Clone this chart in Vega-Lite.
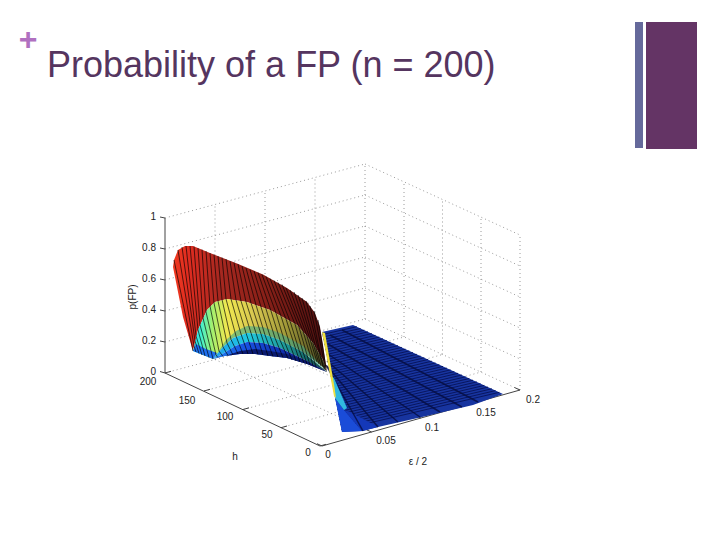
{"$schema":"https://vega.github.io/schema/vega-lite/v6.json","width":720,"height":540,"padding":0,"autosize":{"type":"fit","contains":"padding"},"background":"#ffffff","view":{"stroke":null},
"resolve":{"scale":{"fill":"independent"}},
"encoding":{"x":{"field":"x","type":"quantitative","scale":{"domain":[0,720],"nice":false,"zero":false},"axis":null},"y":{"field":"y","type":"quantitative","scale":{"domain":[540,0],"nice":false,"zero":false},"axis":null}},
"datasets":{
"bars":[{"name":"a","x":635,"x2":643,"y":22,"y2":148},{"name":"b","x":646,"x2":697,"y":22,"y2":149}],
"grid":[{"x":165,"y":373,"x2":365,"y2":319},{"x":165,"y":342,"x2":365,"y2":288},{"x":165,"y":311,"x2":365,"y2":257},{"x":165,"y":280,"x2":365,"y2":226},{"x":165,"y":249,"x2":365,"y2":195},{"x":165,"y":218,"x2":365,"y2":164},
{"x":365,"y":319,"x2":520,"y2":390},{"x":365,"y":288,"x2":520,"y2":359},{"x":365,"y":257,"x2":520,"y2":328},{"x":365,"y":226,"x2":520,"y2":297},{"x":365,"y":195,"x2":520,"y2":266},{"x":365,"y":164,"x2":520,"y2":235},
{"x":215,"y":359.5,"x2":215,"y2":204.5},{"x":265,"y":346,"x2":265,"y2":191},{"x":315,"y":332.5,"x2":315,"y2":177.5},{"x":365,"y":319,"x2":365,"y2":164},
{"x":404,"y":337,"x2":404,"y2":182},{"x":442.5,"y":354.5,"x2":442.5,"y2":199.5},{"x":481,"y":372,"x2":481,"y2":217},{"x":520,"y":390,"x2":520,"y2":235},
{"x":215,"y":359.5,"x2":371.5,"y2":432},{"x":265,"y":346,"x2":421,"y2":418},{"x":315,"y":332.5,"x2":470.5,"y2":404},
{"x":280.75,"y":427.75,"x2":481,"y2":372},{"x":243.5,"y":409.5,"x2":442.5,"y2":354.5},{"x":204,"y":391,"x2":404,"y2":337}],
"axes":[{"x":165,"y":218,"x2":165,"y2":373},{"x":165,"y":373,"x2":320,"y2":446},{"x":322,"y":446,"x2":520,"y2":390},
{"x":165,"y":218,"x2":160,"y2":217},{"x":165,"y":249,"x2":160,"y2":248},{"x":165,"y":280,"x2":160,"y2":279},{"x":165,"y":311,"x2":160,"y2":310},{"x":165,"y":342,"x2":160,"y2":341},{"x":165,"y":373,"x2":160,"y2":371.5},
{"x":165,"y":373,"x2":171,"y2":371.3},{"x":204,"y":391,"x2":210,"y2":389.3},{"x":243,"y":409.5,"x2":249,"y2":407.8},{"x":281,"y":427.7,"x2":287,"y2":426},{"x":320,"y":446,"x2":326,"y2":444.3},
{"x":322,"y":446,"x2":317,"y2":443.7},{"x":371.5,"y":432,"x2":366,"y2":429.5},{"x":421,"y":418,"x2":415.5,"y2":415.5},{"x":470.5,"y":404,"x2":465,"y2":401.5},{"x":520,"y":390,"x2":514.5,"y2":387.5}],
"plane":[{"i":1,"x":322,"y":332},{"i":2,"x":353,"y":325},{"i":3,"x":503,"y":394},{"i":4,"x":473,"y":405},{"i":5,"x":422,"y":417},{"i":6,"x":378,"y":427},{"i":7,"x":363,"y":431},{"i":8,"x":342,"y":432}],
"planeLines":[{"x":322.5,"y":334.5,"x2":356.8,"y2":326.7},{"x":323,"y":337,"x2":360.5,"y2":328.5},{"x":323.5,"y":339.5,"x2":364.3,"y2":330.2},{"x":324,"y":342,"x2":368,"y2":331.9},{"x":324.5,"y":344.5,"x2":371.8,"y2":333.6},{"x":325,"y":347,"x2":375.5,"y2":335.4},{"x":325.5,"y":349.5,"x2":379.3,"y2":337.1},{"x":326,"y":352,"x2":383,"y2":338.8},{"x":326.5,"y":354.5,"x2":386.8,"y2":340.5},{"x":327,"y":357,"x2":390.5,"y2":342.3},{"x":327.5,"y":359.5,"x2":394.3,"y2":344},{"x":328,"y":362,"x2":398,"y2":345.7},{"x":328.5,"y":364.5,"x2":401.8,"y2":347.4},{"x":329,"y":367,"x2":405.5,"y2":349.2},{"x":329.5,"y":369.5,"x2":409.3,"y2":350.9},{"x":330,"y":372,"x2":413,"y2":352.6},{"x":330.5,"y":374.5,"x2":416.8,"y2":354.3},{"x":331,"y":377,"x2":420.5,"y2":356.1},{"x":331.5,"y":379.5,"x2":424.3,"y2":357.8},{"x":332,"y":382,"x2":428,"y2":359.5},{"x":332.5,"y":384.5,"x2":431.8,"y2":361.2},{"x":333,"y":387,"x2":435.5,"y2":363},{"x":333.5,"y":389.5,"x2":439.3,"y2":364.7},{"x":334,"y":392,"x2":443,"y2":366.4},{"x":334.5,"y":394.5,"x2":446.8,"y2":368.1},{"x":335,"y":397,"x2":450.5,"y2":369.9},{"x":335.5,"y":399.5,"x2":454.3,"y2":371.6},{"x":336,"y":402,"x2":458,"y2":373.3},{"x":336.5,"y":404.5,"x2":461.8,"y2":375},{"x":337,"y":407,"x2":465.5,"y2":376.8},{"x":337.5,"y":409.5,"x2":469.3,"y2":378.5},{"x":338,"y":412,"x2":473,"y2":380.2},{"x":338.5,"y":414.5,"x2":476.8,"y2":381.9},{"x":339,"y":417,"x2":480.5,"y2":383.7},{"x":339.5,"y":419.5,"x2":484.3,"y2":385.4},{"x":340,"y":422,"x2":488,"y2":387.1},{"x":340.5,"y":424.5,"x2":491.8,"y2":388.8},{"x":341,"y":427,"x2":495.5,"y2":390.6},{"x":341.5,"y":429.5,"x2":499.3,"y2":392.3}],
"planeBands":[{"x":326,"y":365,"x2":363,"y2":431},{"x":327,"y":366,"x2":378,"y2":427},{"x":327,"y":361,"x2":398,"y2":422},{"x":328,"y":354,"x2":420,"y2":417},{"x":328,"y":344,"x2":440,"y2":412},{"x":330,"y":335,"x2":462,"y2":407},{"x":342,"y":330,"x2":478,"y2":402}],
"fold":[{"part":"bright","i":1,"x":335,"y":398},{"part":"bright","i":2,"x":344,"y":410},{"part":"bright","i":3,"x":362,"y":431},{"part":"bright","i":4,"x":342,"y":432},
{"part":"band2","i":1,"x":344,"y":410},{"part":"band2","i":2,"x":350,"y":412},{"part":"band2","i":3,"x":378,"y":427},{"part":"band2","i":4,"x":362,"y":431}],
"cyanFin":[{"i":1,"x":331,"y":376},{"i":2,"x":334,"y":378},{"i":3,"x":347,"y":408},{"i":4,"x":344,"y":410},{"i":5,"x":335,"y":398}],
"yellowFin":[{"i":1,"x":322,"y":332},{"i":2,"x":325,"y":333},{"i":3,"x":334,"y":384},{"i":4,"x":336,"y":398},{"i":5,"x":334,"y":396},{"i":6,"x":331,"y":380}],
"red":[{"i":1,"x":193,"y":351},{"i":2,"x":183,"y":317},{"i":3,"x":177,"y":287},{"i":4,"x":173,"y":267},{"i":5,"x":174,"y":260},{"i":6,"x":178,"y":250},{"i":7,"x":185,"y":246},{"i":8,"x":193,"y":246},{"i":9,"x":210,"y":253},{"i":10,"x":237,"y":263.5},{"i":11,"x":263,"y":274.5},{"i":12,"x":287,"y":288},{"i":13,"x":307,"y":302},{"i":14,"x":315,"y":313},{"i":15,"x":320,"y":327},{"i":16,"x":323,"y":345},{"i":17,"x":327,"y":372},{"i":18,"x":323,"y":360},{"i":19,"x":313,"y":343},{"i":20,"x":297,"y":325},{"i":21,"x":270,"y":310},{"i":22,"x":247,"y":302},{"i":23,"x":227,"y":299},{"i":24,"x":215,"y":302},{"i":25,"x":207,"y":310},{"i":26,"x":198,"y":330}],
"yellow":[{"i":1,"x":193,"y":351},{"i":2,"x":198,"y":330},{"i":3,"x":207,"y":310},{"i":4,"x":215,"y":302},{"i":5,"x":227,"y":299},{"i":6,"x":247,"y":302},{"i":7,"x":270,"y":310},{"i":8,"x":297,"y":325},{"i":9,"x":313,"y":343},{"i":10,"x":323,"y":360},{"i":11,"x":327,"y":372},{"i":12,"x":323,"y":367},{"i":13,"x":303,"y":352},{"i":14,"x":280,"y":340},{"i":15,"x":263,"y":334},{"i":16,"x":247,"y":333},{"i":17,"x":233,"y":338},{"i":18,"x":223,"y":347},{"i":19,"x":213,"y":359}],
"green":[{"i":1,"x":218,"y":352},{"i":2,"x":226,"y":340},{"i":3,"x":236,"y":331},{"i":4,"x":247,"y":326},{"i":5,"x":263,"y":327},{"i":6,"x":280,"y":333},{"i":7,"x":303,"y":346},{"i":8,"x":327,"y":372},{"i":9,"x":303,"y":352},{"i":10,"x":280,"y":340},{"i":11,"x":263,"y":334},{"i":12,"x":247,"y":333},{"i":13,"x":233,"y":338},{"i":14,"x":223,"y":347},{"i":15,"x":213,"y":359}],
"teal":[{"i":1,"x":213,"y":359},{"i":2,"x":223,"y":347},{"i":3,"x":233,"y":338},{"i":4,"x":247,"y":333},{"i":5,"x":263,"y":334},{"i":6,"x":280,"y":340},{"i":7,"x":303,"y":352},{"i":8,"x":327,"y":372},{"i":9,"x":303,"y":359},{"i":10,"x":280,"y":348},{"i":11,"x":263,"y":343},{"i":12,"x":247,"y":342},{"i":13,"x":235,"y":346},{"i":14,"x":224,"y":353}],
"blue":[{"i":1,"x":213,"y":359},{"i":2,"x":224,"y":353},{"i":3,"x":235,"y":346},{"i":4,"x":247,"y":342},{"i":5,"x":263,"y":343},{"i":6,"x":280,"y":348},{"i":7,"x":303,"y":359},{"i":8,"x":327,"y":372},{"i":9,"x":307,"y":364},{"i":10,"x":287,"y":358},{"i":11,"x":270,"y":356},{"i":12,"x":255,"y":354},{"i":13,"x":240,"y":354},{"i":14,"x":225,"y":356}],
"navy":[{"i":1,"x":225,"y":356},{"i":2,"x":240,"y":351},{"i":3,"x":255,"y":349},{"i":4,"x":270,"y":351},{"i":5,"x":287,"y":354},{"i":6,"x":307,"y":361},{"i":7,"x":327,"y":372},{"i":8,"x":307,"y":364},{"i":9,"x":287,"y":358},{"i":10,"x":270,"y":356},{"i":11,"x":255,"y":354},{"i":12,"x":240,"y":354}],
"base":[{"i":1,"x":193,"y":351},{"i":2,"x":196,"y":344},{"i":3,"x":206,"y":349},{"i":4,"x":217,"y":353},{"i":5,"x":213,"y":359}],
"stripes":[
{"x":174,"y":260,"x2":193,"y2":351},{"x":178,"y":250,"x2":194,"y2":346},{"x":182,"y":247,"x2":195,"y2":341},{"x":186,"y":246,"x2":196,"y2":336},{"x":190,"y":246,"x2":198,"y2":330},{"x":194,"y":246.5,"x2":200,"y2":325},{"x":198,"y":248,"x2":203,"y2":318},{"x":202,"y":249.5,"x2":206,"y2":312},{"x":206,"y":251,"x2":210,"y2":306},{"x":210,"y":253,"x2":214,"y2":303},{"x":214,"y":254.5,"x2":218,"y2":301},{"x":218,"y":256,"x2":222,"y2":299.5},{"x":222,"y":257.5,"x2":226,"y2":299},{"x":226,"y":259,"x2":231,"y2":299},{"x":230,"y":261,"x2":236,"y2":300},{"x":234,"y":262.5,"x2":241,"y2":301},{"x":238,"y":264,"x2":246,"y2":302},{"x":242,"y":266,"x2":251,"y2":303},{"x":246,"y":268,"x2":256,"y2":305},{"x":250,"y":269.5,"x2":261,"y2":307},{"x":254,"y":271,"x2":266,"y2":309},{"x":258,"y":272.5,"x2":271,"y2":311},{"x":262,"y":274.5,"x2":276,"y2":313},{"x":266,"y":276.5,"x2":281,"y2":316},{"x":270,"y":278.5,"x2":286,"y2":319},{"x":274,"y":280.5,"x2":290,"y2":321},{"x":278,"y":282.5,"x2":295,"y2":324},{"x":282,"y":284.5,"x2":299,"y2":327},{"x":286,"y":288,"x2":303,"y2":331},{"x":290,"y":290,"x2":307,"y2":336},{"x":294,"y":292,"x2":310,"y2":339},{"x":298,"y":295,"x2":313,"y2":343},{"x":302,"y":298,"x2":316,"y2":348},{"x":306,"y":301,"x2":319,"y2":352},{"x":310,"y":306,"x2":321,"y2":357},{"x":314,"y":311,"x2":324,"y2":362},{"x":318,"y":320,"x2":326,"y2":368},
{"x":194,"y":346,"x2":196,"y2":352},{"x":195,"y":341,"x2":199,"y2":353.5},{"x":196,"y":336,"x2":202,"y2":355},{"x":198,"y":330,"x2":205,"y2":356},{"x":200,"y":325,"x2":209,"y2":357.5},{"x":203,"y":318,"x2":213,"y2":359},{"x":206,"y":312,"x2":216,"y2":355},{"x":210,"y":306,"x2":219,"y2":351},{"x":214,"y":303,"x2":223,"y2":347},{"x":218,"y":301,"x2":227,"y2":343},{"x":222,"y":299.5,"x2":231,"y2":339.5},{"x":226,"y":299,"x2":236,"y2":336},{"x":231,"y":299,"x2":241,"y2":334},{"x":236,"y":300,"x2":246,"y2":333},{"x":241,"y":301,"x2":251,"y2":333},{"x":246,"y":302,"x2":256,"y2":333},{"x":251,"y":303,"x2":261,"y2":334},{"x":256,"y":305,"x2":265,"y2":335},{"x":261,"y":307,"x2":270,"y2":336},{"x":266,"y":309,"x2":275,"y2":338},{"x":271,"y":311,"x2":280,"y2":340},{"x":276,"y":313,"x2":285,"y2":343},{"x":281,"y":316,"x2":290,"y2":345},{"x":286,"y":319,"x2":295,"y2":347},{"x":290,"y":321,"x2":299,"y2":350},{"x":295,"y":324,"x2":303,"y2":352},{"x":299,"y":327,"x2":307,"y2":355},{"x":303,"y":331,"x2":311,"y2":358},{"x":307,"y":336,"x2":314,"y2":360},{"x":310,"y":339,"x2":317,"y2":362},{"x":313,"y":343,"x2":319,"y2":364},{"x":316,"y":348,"x2":321,"y2":366},{"x":319,"y":352,"x2":323,"y2":367},{"x":321,"y":357,"x2":324,"y2":369},{"x":324,"y":362,"x2":325,"y2":370},
{"x":216,"y":355,"x2":218,"y2":357.5},{"x":219,"y":351,"x2":223,"y2":356.5},{"x":223,"y":347,"x2":228,"y2":355.5},{"x":227,"y":343,"x2":233,"y2":355},{"x":231,"y":339.5,"x2":238,"y2":354},{"x":236,"y":336,"x2":243,"y2":354},{"x":241,"y":334,"x2":248,"y2":354},{"x":246,"y":333,"x2":253,"y2":354},{"x":251,"y":333,"x2":258,"y2":354.5},{"x":256,"y":333,"x2":263,"y2":355},{"x":261,"y":334,"x2":268,"y2":356},{"x":265,"y":335,"x2":273,"y2":356.5},{"x":270,"y":336,"x2":278,"y2":357},{"x":275,"y":338,"x2":283,"y2":357.5},{"x":280,"y":340,"x2":288,"y2":358.5},{"x":285,"y":343,"x2":292,"y2":360},{"x":290,"y":345,"x2":296,"y2":361},{"x":295,"y":347,"x2":300,"y2":362},{"x":299,"y":350,"x2":304,"y2":363},{"x":303,"y":352,"x2":307,"y2":364},{"x":307,"y":355,"x2":310,"y2":365},{"x":311,"y":358,"x2":313,"y2":366},{"x":314,"y":360,"x2":316,"y2":367}],
"labels":[{"t":"200","x":148,"y":382},{"t":"150","x":187,"y":401},{"t":"100","x":225,"y":417},{"t":"50","x":267,"y":435},{"t":"0","x":308,"y":453},{"t":"h","x":235,"y":457},{"t":"0","x":328,"y":455},{"t":"0.05","x":386,"y":441},{"t":"0.1","x":432,"y":428},{"t":"0.15","x":486,"y":413},{"t":"0.2","x":533,"y":400},{"t":"ε / 2","x":418,"y":462}],
"zlabels":[{"t":"1","x":156,"y":217},{"t":"0.8","x":156,"y":248},{"t":"0.6","x":156,"y":279},{"t":"0.4","x":156,"y":310},{"t":"0.2","x":156,"y":341},{"t":"0","x":156,"y":372}]
},
"layer":[
{"data":{"name":"bars"},"mark":{"type":"rect"},"encoding":{"x2":{"field":"x2"},"y2":{"field":"y2"},"fill":{"field":"name","type":"nominal","legend":null,"scale":{"domain":["a","b"],"range":["#65699b","#643465"]}}}},
{"data":{"name":"grid"},"mark":{"type":"rule","stroke":"#808080","strokeWidth":0.8,"strokeDash":[1,3]},"encoding":{"x2":{"field":"x2"},"y2":{"field":"y2"}}},
{"data":{"name":"axes"},"mark":{"type":"rule","stroke":"#444444","strokeWidth":1},"encoding":{"x2":{"field":"x2"},"y2":{"field":"y2"}}},
{"data":{"name":"plane"},"mark":{"type":"line","fill":"#17349f","strokeWidth":0},"encoding":{"order":{"field":"i"}}},
{"data":{"name":"planeLines"},"mark":{"type":"rule","stroke":"#081660","strokeWidth":1},"encoding":{"x2":{"field":"x2"},"y2":{"field":"y2"}}},
{"data":{"name":"fold"},"mark":{"type":"line","strokeWidth":0},"encoding":{"order":{"field":"i"},"detail":{"field":"part"},"fill":{"field":"part","type":"nominal","legend":null,"scale":{"domain":["bright","band2"],"range":["#1a4cd8","#1438b8"]}}}},
{"data":{"name":"planeBands"},"mark":{"type":"rule","stroke":"#050c40","strokeWidth":1.5,"opacity":0.8},"encoding":{"x2":{"field":"x2"},"y2":{"field":"y2"}}},
{"data":{"name":"cyanFin"},"mark":{"type":"line","strokeWidth":0,"fill":"#30b8e0"},"encoding":{"order":{"field":"i"}}},
{"data":{"name":"yellowFin"},"mark":{"type":"line","strokeWidth":0,"fill":"#f0e040"},"encoding":{"order":{"field":"i"}}},
{"data":{"name":"red"},"mark":{"type":"line","strokeWidth":0,"fill":{"gradient":"linear","x1":0,"y1":0,"x2":1,"y2":0,"stops":[{"offset":0,"color":"#f03a20"},{"offset":0.1,"color":"#e02c20"},{"offset":0.3,"color":"#a82820"},{"offset":0.6,"color":"#882018"},{"offset":1,"color":"#4a1010"}]}},"encoding":{"order":{"field":"i"}}},
{"data":{"name":"yellow"},"mark":{"type":"line","strokeWidth":0,"fill":{"gradient":"linear","x1":0,"y1":0,"x2":1,"y2":0,"stops":[{"offset":0,"color":"#28d8f0"},{"offset":0.06,"color":"#40f0d0"},{"offset":0.14,"color":"#a0f070"},{"offset":0.25,"color":"#f0e850"},{"offset":0.45,"color":"#d8c850"},{"offset":0.7,"color":"#a09838"},{"offset":1,"color":"#404020"}]}},"encoding":{"order":{"field":"i"}}},
{"data":{"name":"green"},"mark":{"type":"line","strokeWidth":0,"fill":"#40a888","fillOpacity":0.6},"encoding":{"order":{"field":"i"}}},
{"data":{"name":"teal"},"mark":{"type":"line","strokeWidth":0,"fill":{"gradient":"linear","x1":0,"y1":0,"x2":1,"y2":0,"stops":[{"offset":0,"color":"#20a0f0"},{"offset":0.3,"color":"#20c8e0"},{"offset":0.6,"color":"#20a0a0"},{"offset":1,"color":"#0c3c40"}]}},"encoding":{"order":{"field":"i"}}},
{"data":{"name":"blue"},"mark":{"type":"line","strokeWidth":0,"fill":{"gradient":"linear","x1":0,"y1":0,"x2":1,"y2":0,"stops":[{"offset":0,"color":"#2080f0"},{"offset":0.3,"color":"#1850e0"},{"offset":0.6,"color":"#1030b0"},{"offset":1,"color":"#0a1050"}]}},"encoding":{"order":{"field":"i"}}},
{"data":{"name":"navy"},"mark":{"type":"line","strokeWidth":0,"fill":"#0a1a70"},"encoding":{"order":{"field":"i"}}},
{"data":{"name":"base"},"mark":{"type":"line","strokeWidth":0,"fill":"#1f70f0"},"encoding":{"order":{"field":"i"}}},
{"data":{"name":"stripes"},"mark":{"type":"rule","stroke":"#000000","strokeWidth":0.9,"opacity":0.72},"encoding":{"x2":{"field":"x2"},"y2":{"field":"y2"}}},
{"data":{"name":"labels"},"mark":{"type":"text","font":"Liberation Sans","fontSize":10,"fill":"#222222","align":"center","baseline":"middle"},"encoding":{"text":{"field":"t"}}},
{"data":{"name":"zlabels"},"mark":{"type":"text","font":"Liberation Sans","fontSize":10,"fill":"#222222","align":"right","baseline":"middle"},"encoding":{"text":{"field":"t"}}},
{"data":{"values":[{"t":"p(FP)","x":133,"y":297}]},"mark":{"type":"text","font":"Liberation Sans","fontSize":10,"fill":"#222222","align":"center","baseline":"middle","angle":270},"encoding":{"text":{"field":"t"}}},
{"data":{"values":[{"t":"Probability of a FP (n = 200)","x":47,"y":77}]},"mark":{"type":"text","font":"Liberation Sans","fontSize":36,"fill":"#55355f","align":"left","baseline":"alphabetic"},"encoding":{"text":{"field":"t"}}},
{"data":{"values":[{"t":"+","x":28,"y":40}]},"mark":{"type":"text","font":"Liberation Sans","fontSize":32,"fontWeight":"bold","fill":"#b070c0","align":"center","baseline":"middle"},"encoding":{"text":{"field":"t"}}}
]}
